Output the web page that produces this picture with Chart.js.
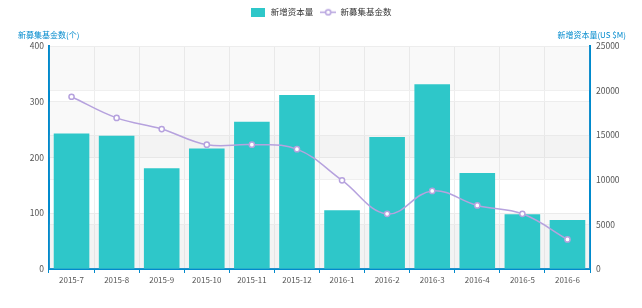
<!DOCTYPE html>
<html>
<head>
<meta charset="utf-8">
<script src="https://cdn.jsdelivr.net/npm/chart.js@4/dist/chart.umd.min.js"></script>
<style>
  html, body { margin: 0; padding: 0; background: #fff; }
  #wrap { width: 642px; height: 308px; }
</style>
</head>
<body>
<div id="wrap"><canvas id="myChart" width="642" height="308"></canvas></div>
<script>
const months = ['2015-7', '2015-8', '2015-9', '2015-10', '2015-11', '2015-12',
                '2016-1', '2016-2', '2016-3', '2016-4', '2016-5', '2016-6'];
// 新增资本量 (US $M), right axis
const capital = [15200, 14950, 11300, 13500, 16500, 19500, 6600, 14800, 20700, 10750, 6150, 5500];
// 新募集基金数 (个), left axis
const funds = [309, 271, 251, 223, 223, 215, 159, 99, 140, 114, 99, 53];

const leftTicks = [0, 100, 200, 300, 400];
const rightTicks = [0, 5000, 10000, 15000, 20000, 25000];

const FONT = '"Noto Sans CJK SC", "Noto Sans", sans-serif';
const TEAL = '#2ec7c9';
const PURPLE = '#b6a2de';
const AXIS = '#008acd';

// legend icons
function rectIcon() {
    const c = document.createElement('canvas');
    c.width = 14; c.height = 9;
    const g = c.getContext('2d');
    g.fillStyle = TEAL;
    g.fillRect(0, 0, 14, 9);
    return c;
}
function lineIcon() {
    const c = document.createElement('canvas');
    c.width = 16; c.height = 9;
    const g = c.getContext('2d');
    g.strokeStyle = PURPLE;
    g.lineWidth = 1.5;
    g.beginPath(); g.moveTo(0, 4.5); g.lineTo(16, 4.5); g.stroke();
    g.fillStyle = '#fff';
    g.beginPath(); g.arc(8, 4.5, 2.6, 0, Math.PI * 2); g.fill(); g.stroke();
    return c;
}
const icons = [rectIcon(), lineIcon()];

// alternating split areas for both value axes
const bands = {
    id: 'bands',
    beforeDatasetsDraw(chart) {
        const { ctx, chartArea } = chart;
        ctx.save();
        [['y', leftTicks], ['y1', rightTicks]].forEach(([id, ticks]) => {
            const s = chart.scales[id];
            for (let i = 0; i < ticks.length - 1; i += 2) {
                const y0 = s.getPixelForValue(ticks[i]);
                const y1 = s.getPixelForValue(ticks[i + 1]);
                ctx.fillStyle = 'rgba(200,200,200,0.1)';
                ctx.fillRect(chartArea.left, y1, chartArea.right - chartArea.left, y0 - y1);
            }
        });
        ctx.restore();
    }
};

// horizontal axis names above each value axis
const axisNames = {
    id: 'axisNames',
    afterDraw(chart) {
        const { ctx, chartArea } = chart;
        ctx.save();
        ctx.font = '8px ' + FONT;
        ctx.fillStyle = AXIS;
        ctx.textBaseline = 'middle';
        ctx.textAlign = 'left';
        ctx.fillText('新募集基金数(个)', chartArea.left - 31, 35);
        ctx.textAlign = 'right';
        ctx.fillText('新增资本量(US $M)', chartArea.right + 36, 35);
        ctx.restore();
    }
};

// reserve room above the plot for the legend and the axis names
const legendHeight = {
    id: 'legendHeight',
    afterInit(chart) {
        const fit = chart.legend.fit;
        chart.legend.fit = function () {
            fit.call(this);
            this.height = 45;
        };
    }
};

const ctx = document.getElementById('myChart').getContext('2d');
const myChart = new Chart(ctx, {
    data: {
        labels: months,
        datasets: [{
            type: 'bar',
            label: '新增资本量',
            data: capital,
            yAxisID: 'y1',
            backgroundColor: TEAL,
            barPercentage: 0.79,
            categoryPercentage: 1,
            order: 2
        }, {
            type: 'line',
            label: '新募集基金数',
            data: funds,
            yAxisID: 'y',
            borderColor: PURPLE,
            borderWidth: 1.5,
            tension: 0.4,
            pointRadius: 2.6,
            pointBorderWidth: 1.5,
            pointBackgroundColor: '#fff',
            pointBorderColor: PURPLE,
            order: 1
        }]
    },
    options: {
        responsive: false,
        animation: false,
        layout: { padding: { top: 1 } },
        plugins: {
            tooltip: { enabled: false },
            legend: {
                position: 'top',
                labels: {
                    usePointStyle: true,
                    pointStyleWidth: 16,
                    boxHeight: 8,
                    padding: 7,
                    color: '#333',
                    font: { family: FONT, size: 8.5 },
                    sort: (a, b) => a.datasetIndex - b.datasetIndex,
                    generateLabels(chart) {
                        return chart.data.datasets.map((d, i) => ({
                            text: d.label,
                            datasetIndex: i,
                            pointStyle: icons[i],
                            fillStyle: 'transparent',
                            strokeStyle: 'transparent',
                            lineWidth: 0,
                            fontColor: '#333'
                        }));
                    }
                }
            }
        },
        scales: {
            x: {
                offset: true,
                grid: { offset: true, color: '#eee', tickColor: AXIS, tickLength: 4 },
                border: { color: AXIS, width: 2 },
                ticks: { color: '#555', font: { family: FONT, size: 8 }, padding: 2, maxRotation: 0, autoSkip: false },
                afterFit(s) { s.height = 39; }
            },
            y: {
                position: 'left',
                min: 0,
                max: 400,
                ticks: { stepSize: 100, color: '#555', font: { family: FONT, size: 8.5 }, padding: 5 },
                grid: { color: '#eee', drawTicks: false },
                border: { color: AXIS, width: 2 },
                afterFit(s) { s.width = 49; }
            },
            y1: {
                position: 'right',
                min: 0,
                max: 25000,
                ticks: {
                    stepSize: 5000, color: '#555', font: { family: FONT, size: 8.5 }, padding: 6,
                    callback: v => String(v)
                },
                grid: { color: '#f2f2f2', drawTicks: false },
                border: { color: AXIS, width: 2 },
                afterFit(s) { s.width = 52; }
            }
        }
    },
    plugins: [bands, axisNames, legendHeight]
});
</script>
</body>
</html>
